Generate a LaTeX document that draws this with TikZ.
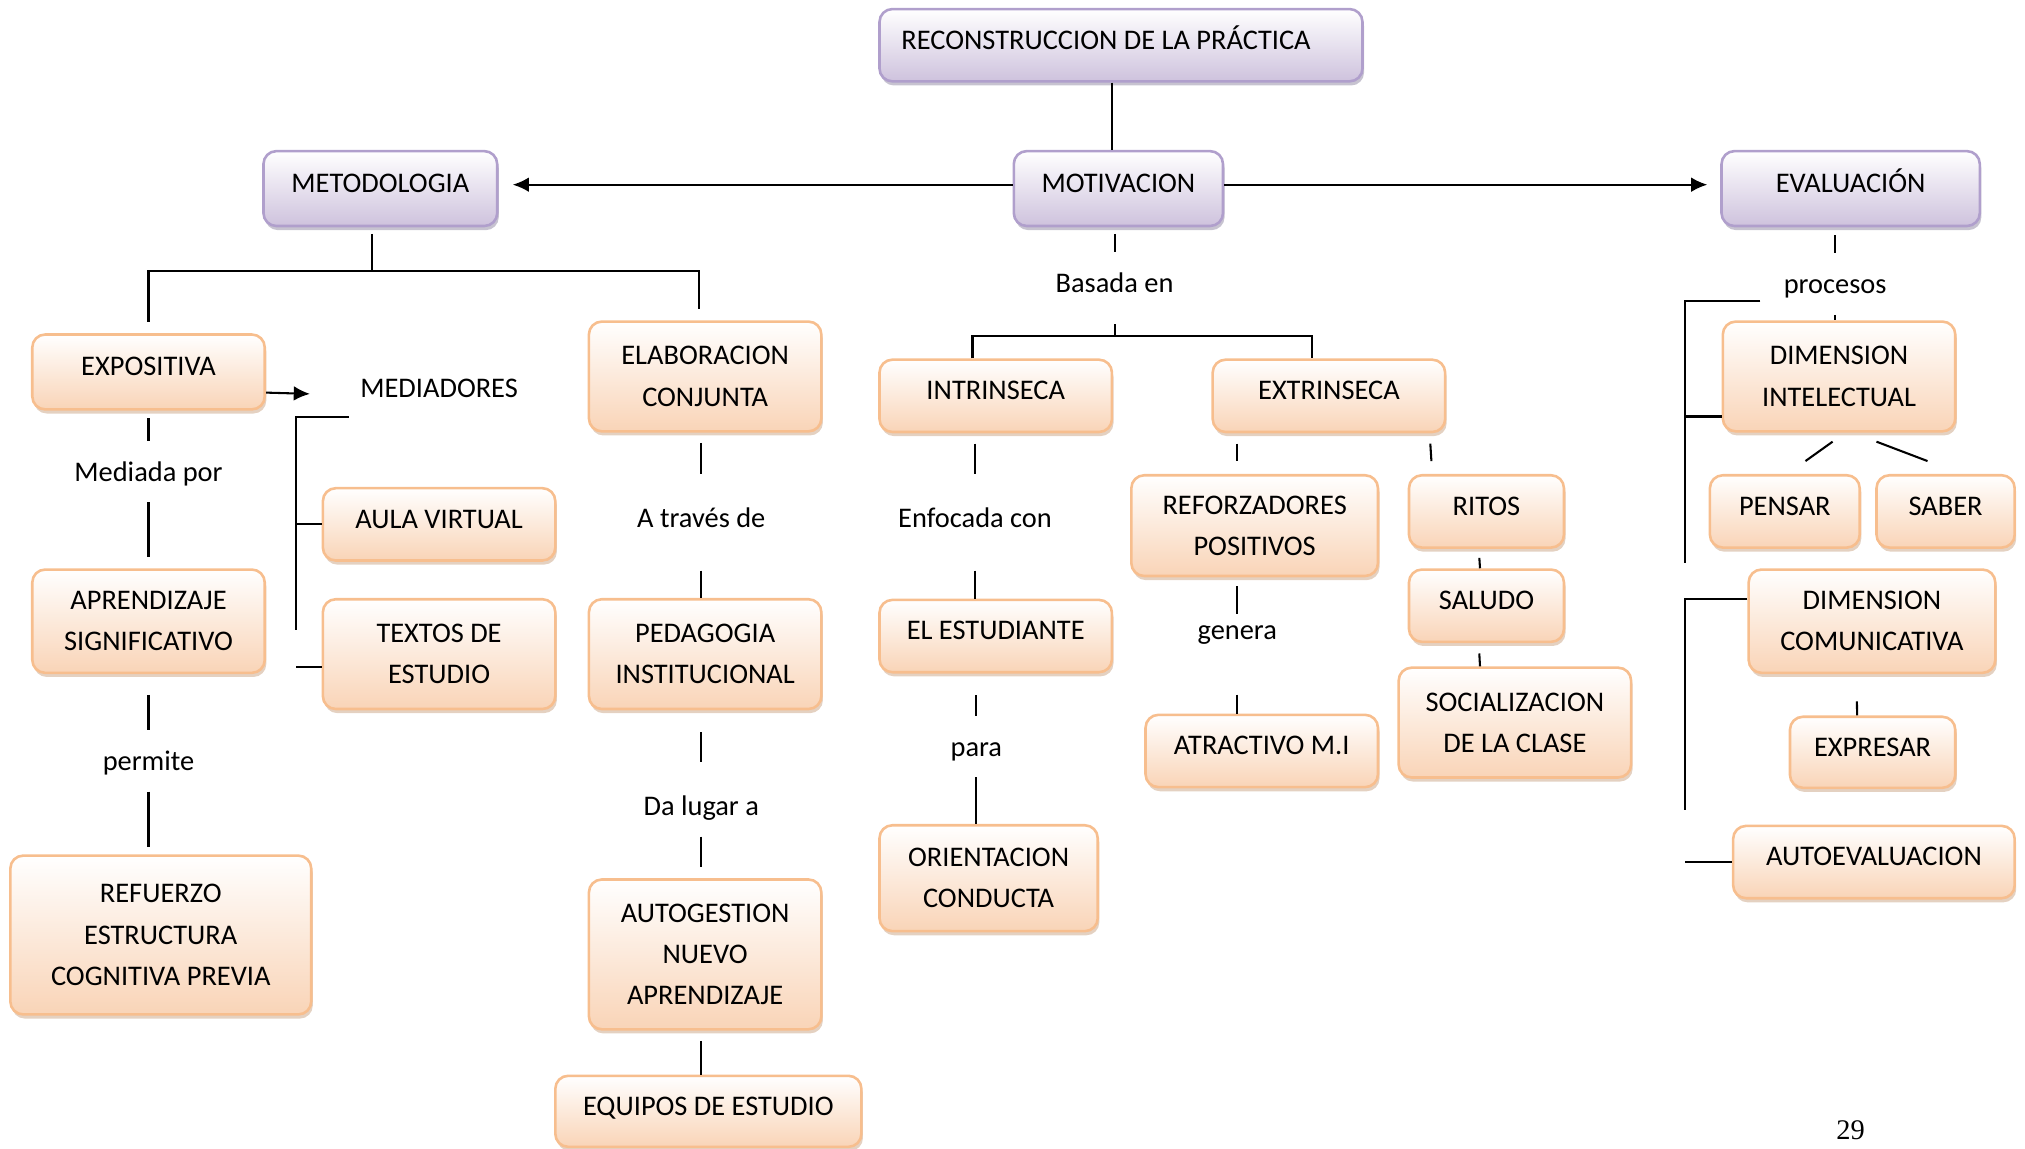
\documentclass[tikz,border=0pt]{standalone}
\usepackage{fontspec}
\setmainfont{Carlito}
\newfontfamily\pagefont{Liberation Serif}
\usetikzlibrary{
  arrows.meta,
  positioning,
  shadows,
}
\definecolor{peach}{HTML}{F9D4B7}
\definecolor{peachline}{HTML}{F7BE8E}
\definecolor{peachshadow}{HTML}{C9A384}
\definecolor{lilac}{HTML}{CEC2DD}
\definecolor{lilacline}{HTML}{B09FCC}
\definecolor{lilacshadow}{HTML}{8F88A2}
\tikzset{
  >={Latex[width=2mm,length=2.2mm]},
}

\begin{document}
\begin{tikzpicture}[
      x=0.5pt, y=-0.5pt,
      every node/.style={
        align=center,
        font=\fontsize{11}{16}\selectfont,
      },
      cbox/.style={
        line width=1pt,
        rounded corners=5pt,
        top color=white,
        inner sep=2pt,
        minimum width=90pt,
        minimum height=28pt,
      },
      box/.style={cbox, draw=peachline, bottom color=peach,
        drop shadow={shadow xshift=0.6pt, shadow yshift=-1.6pt, fill=peachshadow},
      },
      sbox/.style={box, text height=8pt, text depth=5pt}, % one line, text sits high
      pbox/.style={cbox, draw=lilacline, bottom color=lilac, minimum height=29pt,
        text height=8pt, text depth=5pt,
        drop shadow={shadow xshift=0.6pt, shadow yshift=-1.6pt, fill=lilacshadow},
      },
      lab/.style={inner xsep=2pt, inner ysep=6pt, text height=9.5pt, text depth=2pt},
      link/.style={draw, line width=0.8pt},
      arr/.style={link, ->},
      ]
      \useasboundingbox (0,0) rectangle (1568,889);

      % top row
      \node[pbox, text width=170pt, align=flush left, inner xsep=8.5pt, minimum height=28pt] (recon) at (868,35) {RECONSTRUCCION DE LA PRÁCTICA};
      \node[pbox, minimum width=81pt] (motiv) at (866,146) {MOTIVACION};
      \node[pbox, minimum width=90.5pt] (metod) at (294.5,146) {METODOLOGIA};
      \node[pbox, minimum width=100pt] (eval) at (1433,146) {EVALUACIÓN};

      % metodologia
      \node[sbox, minimum height=29pt] (expo) at (115,288) {EXPOSITIVA};
      \node (mediad) at (340,301) {MEDIADORES};
      \node[sbox] (aula) at (340,406) {AULA VIRTUAL};
      \node[box, minimum height=42.5pt] (textos) at (340,506.5) {TEXTOS DE\\ESTUDIO};
      \node[lab] (medp) at (115,365) {Mediada por};
      \node[box, minimum height=40pt] (aprend) at (115,481) {APRENDIZAJE\\SIGNIFICATIVO};
      \node[lab] (perm) at (115,589) {permite};
      \node[box, minimum width=116.5pt, minimum height=61.5pt] (refu) at (124.5,724) {REFUERZO\\ESTRUCTURA\\COGNITIVA PREVIA};

      \node[box, minimum height=42.5pt] (elab) at (546,291.5) {ELABORACION\\CONJUNTA};
      \node[lab] (atrav) at (543,401) {A través de};
      \node[box, minimum height=42.5pt] (pedag) at (546,506.5) {PEDAGOGIA\\INSTITUCIONAL};
      \node[lab] (dalug) at (543,624) {Da lugar a};
      \node[box, minimum height=58pt] (autog) at (546,739) {AUTOGESTION\\NUEVO\\APRENDIZAJE};
      \node[sbox, minimum width=118.5pt, minimum height=27.5pt] (equip) at (548.5,860.5) {EQUIPOS DE ESTUDIO};

      % motivacion
      \node[lab] (basada) at (863,219) {Basada en};
      \coordinate (bfork) at (863,260);
      \node[sbox] (intr) at (771,306.5) {INTRINSECA};
      \node[sbox] (extr) at (1029,306.5) {EXTRINSECA};
      \node[lab] (enfoc) at (755,401) {Enfocada con};
      \node[sbox] (estud) at (771,492.5) {EL ESTUDIANTE};
      \node[lab] (para) at (756,578) {para};
      \node[box, minimum width=84.5pt, minimum height=41pt] (orient) at (765.5,680) {ORIENTACION\\CONDUCTA};
      \node[box, minimum width=95.5pt, minimum height=39pt] (reforz) at (971.5,407) {REFORZADORES\\POSITIVOS};
      \node[lab] (genera) at (958,488) {genera};
      \node[sbox] (atract) at (977,581.5) {ATRACTIVO M.I};
      \node[sbox, minimum width=60pt] (ritos) at (1151,396) {RITOS};
      \node[sbox, minimum width=60pt] (saludo) at (1151,469) {SALUDO};
      \node[box, minimum height=42.5pt] (social) at (1173,559.5) {SOCIALIZACION\\DE LA CLASE};

      % evaluacion
      \node[lab] (proc) at (1421,220) {procesos};
      \node[box, minimum height=42.5pt] (dimint) at (1424,291.5) {DIMENSION\\INTELECTUAL};
      \node[sbox, minimum width=58pt] (pensar) at (1382,396) {PENSAR};
      \node[sbox, minimum width=53.5pt] (saber) at (1506.5,396) {SABER};
      \node[box, minimum width=95.5pt, minimum height=40pt] (dimcom) at (1449.5,481) {DIMENSION\\COMUNICATIVA};
      \node[sbox, minimum width=64pt, minimum height=27.5pt] (expres) at (1450,582.5) {EXPRESAR};
      \node[sbox, minimum width=109pt] (autoev) at (1451,667.5) {AUTOEVALUACION};

      \node[font=\pagefont\fontsize{11}{13}\selectfont] (pnum) at (1433,875) {29};

      \coordinate (mfork) at (288,210);
      \coordinate (medtip) at (240,305);
      \coordinate (brtop) at (270,323);
      \coordinate (brbot) at (229,488);
      \coordinate (rbtop) at (1363,233);
      \coordinate (rbbot) at (1305,436);
      \coordinate (rb2bot) at (1305,627);

      \draw[link] ([xshift=-2.5pt]recon.south -| motiv.north) -- ([xshift=-2.5pt]motiv.north);
      \draw[arr, shorten >=5.5pt] ([yshift=1.5pt]motiv.west) -- ([yshift=1.5pt]metod.east);
      \draw[arr, shorten >=5pt] ([yshift=1.5pt]motiv.east) -- ([yshift=1.5pt]eval.west);

      % left tree
      \draw[link, shorten <=2.5pt] (mfork |- metod.south) -- (mfork);
      \draw[link, shorten <=4.5pt, shorten >=4.5pt] (expo.north) |- (mfork) -| ([xshift=-2.5pt]elab.north);
      \draw[arr] ([yshift=-8pt]expo.east) -- (medtip);
      \draw[link] (brtop) -| (brbot);
      \draw[link] (aula.west) -- (aula.west -| brbot);
      \draw[link] ([yshift=-5pt]textos.west) -- ([yshift=-5pt]textos.west -| brbot);
      \draw[link, shorten <=3pt] (expo.south -| medp) -- (medp.north);
      \draw[link, shorten >=4.5pt] (medp.south) -- (aprend.north -| medp);
      \draw[link, shorten <=8pt] (aprend.south -| perm) -- (perm.north);
      \draw[link, shorten >=3pt] (perm.south) -- (refu.north -| perm);
      \draw[link, shorten <=4pt, shorten >=5pt] (elab.south -| atrav) -- (atrav.north);
      \draw[link, shorten <=8.5pt] (atrav.south) -- (pedag.north -| atrav);
      \draw[link, shorten <=8.5pt, shorten >=5pt] (pedag.south -| dalug) -- (dalug.north);
      \draw[link, shorten >=4.5pt] (dalug.south) -- (autog.north -| dalug);
      \draw[link, shorten <=4pt] (autog.south -| dalug) -- (equip.north -| dalug);

      % middle tree
      \draw[link, shorten <=2.5pt] (motiv.south -| basada) -- (basada.north);
      \draw[link, shorten <=4pt] (basada.south) -- (bfork);
      \draw[link] ([xshift=-9pt]intr.north) |- (bfork) -| ([xshift=-6.5pt]extr.north);
      \draw[link, shorten <=4pt, shorten >=5pt] (intr.south -| enfoc) -- (enfoc.north);
      \draw[link, shorten <=8.5pt] (enfoc.south) -- (estud.north -| enfoc);
      \draw[link, shorten <=8.5pt] (estud.south -| para) -- (para.north);
      \draw[link] (para.south) -- (orient.north -| para);
      \draw[link, shorten <=4pt, shorten >=5pt] (extr.south -| genera) -- (reforz.north -| genera);
      \draw[link, shorten <=3.5pt, shorten >=-5.5pt] (reforz.south -| genera) -- (genera.north);
      \draw[link, shorten <=13pt] (genera.south) -- (atract.north -| genera);
      \draw[link, shorten <=4pt, shorten >=5pt] ([xshift=39pt]extr.south) -- ([xshift=-21pt]ritos.north);
      \draw[link, shorten <=3.5pt] ([xshift=-3pt]ritos.south) -- ([xshift=-2.5pt]saludo.north);
      \draw[link, shorten <=4pt] ([xshift=-3pt]saludo.south) -- ([xshift=-13.5pt]social.north);

      % right tree
      \draw[link, shorten <=3pt] (eval.south -| proc) -- (proc.north);
      \draw[link] (proc.south) -- (dimint.north -| proc);
      \draw[link] (rbtop) -| (rbbot);
      \draw[link] ([yshift=-15.5pt]dimint.west) -- ([yshift=-15.5pt]dimint.west -| rbbot);
      \draw[link] ([xshift=-2.5pt,yshift=-3.5pt]dimint.south) -- ([xshift=8pt,yshift=5pt]pensar.north);
      \draw[link] ([xshift=14.5pt,yshift=-3.5pt]dimint.south) -- ([xshift=-7pt,yshift=5pt]saber.north);
      \draw[link] ([yshift=8.5pt]dimcom.west) -| (rb2bot);
      \draw[link, shorten <=10.5pt] ([xshift=-6pt]dimcom.south) -- ([xshift=-6pt]expres.north);
      \draw[link] (autoev.west) -- (autoev.west -| rb2bot);
    \end{tikzpicture}
\end{document}
